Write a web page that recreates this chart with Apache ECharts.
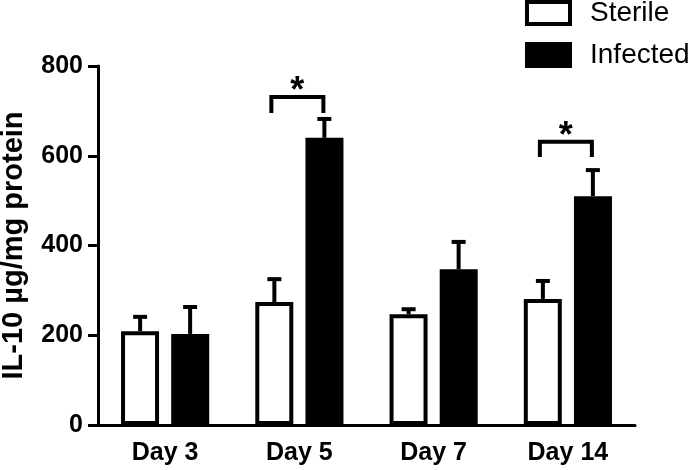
<!DOCTYPE html>
<html>
<head>
<meta charset="utf-8">
<script src="https://cdn.jsdelivr.net/npm/echarts@6/dist/echarts.min.js"></script>
<style>
html,body{margin:0;padding:0;background:#fff;}
#chart{width:693px;height:470px;}
</style>
</head>
<body>
<div id="chart"></div>
<script>
// ---- data ----
const categories = ['Day 3', 'Day 5', 'Day 7', 'Day 14'];
const sterile = [209, 274, 247, 281];
const infected = [203, 640, 347, 510];
const sterileErr = [32, 51, 11, 40];
const infectedErr = [60, 42, 61, 58];
const sigCategories = [1, 3];
const sigTop = [731, 631];
const sigLeg = [695, 597];
const yTicks = [0, 200, 400, 600, 800];

// ---- styles ----
const FONT = '"Liberation Sans", Arial, Helvetica, sans-serif';
const BAR_W = 38;
const HALF_STEP = 25; // half of center-to-center distance of paired bars

const chart = echarts.init(document.getElementById('chart'), null, {renderer: 'canvas'});

function errRender(offset) {
  return function (params, api) {
    const c = api.value(0), v = api.value(1), e = api.value(2);
    const base = api.coord([c, v]);
    const top = api.coord([c, v + e]);
    const x = base[0] + offset;
    const st = {stroke: '#000', lineWidth: 4};
    return {
      type: 'group',
      children: [
        {type: 'line', shape: {x1: x, y1: base[1], x2: x, y2: top[1]}, style: st},
        {type: 'line', shape: {x1: x - 7, y1: top[1], x2: x + 7, y2: top[1]}, style: st}
      ]
    };
  };
}

function sigRender(params, api) {
  const c = api.value(0), t = api.value(1), l = api.value(2);
  const p = api.coord([c, t]);
  const ly = api.coord([c, l])[1];
  const cx = p[0], ty = p[1];
  return {
    type: 'group',
    children: [
      {type: 'polyline', shape: {points: [[cx - 28, ly], [cx - 28, ty], [cx + 24, ty], [cx + 24, ly]]},
       style: {stroke: '#000', lineWidth: 4, fill: null}},
      {type: 'text', style: {text: '*', x: cx - 2, y: ty - 5, align: 'center', verticalAlign: 'middle',
        font: 'bold 36px ' + FONT, fill: '#000'}}
    ]
  };
}

const option = {
  animation: false,
  backgroundColor: '#fff',
  grid: {left: 98, right: 58, top: 66, bottom: 45, containLabel: false, outerBoundsMode: 'none'},
  legend: {
    data: [
      {name: 'Sterile', itemStyle: {color: '#fff', borderColor: '#000', borderWidth: 4}},
      {name: 'Infected', itemStyle: {color: '#000', borderColor: '#000', borderWidth: 4}}
    ],
    orient: 'vertical',
    left: 525,
    top: -1,
    padding: 0,
    icon: 'rect',
    itemWidth: 43,
    itemHeight: 22,
    itemGap: 14,
    textStyle: {fontFamily: FONT, fontSize: 28, color: '#000', padding: [0, 0, 0, 15]}
  },
  xAxis: {
    type: 'category',
    data: categories,
    axisLine: {lineStyle: {color: '#000', width: 3}},
    axisTick: {alignWithLabel: true, length: 8, lineStyle: {color: '#000', width: 3}},
    axisLabel: {fontFamily: FONT, fontWeight: 'bold', fontSize: 25, color: '#000', margin: 16}
  },
  yAxis: {
    type: 'value',
    min: yTicks[0],
    max: yTicks[yTicks.length - 1],
    interval: yTicks[1] - yTicks[0],
    name: 'IL-10 µg/mg protein',
    nameLocation: 'middle',
    nameGap: 70,
    nameTextStyle: {fontFamily: FONT, fontWeight: 'bold', fontSize: 29, color: '#000'},
    splitLine: {show: false},
    axisLine: {show: true, lineStyle: {color: '#000', width: 3}},
    axisTick: {show: true, length: 10, lineStyle: {color: '#000', width: 3}},
    axisLabel: {fontFamily: FONT, fontWeight: 'bold', fontSize: 25, color: '#000', margin: 15}
  },
  series: [
    {
      name: 'Sterile', type: 'bar', data: sterile, barWidth: BAR_W, barGap: '32%',
      itemStyle: {color: '#fff', borderColor: '#000', borderWidth: 4}
    },
    {
      name: 'Infected', type: 'bar', data: infected, barWidth: BAR_W, barGap: '32%',
      itemStyle: {color: '#000', borderColor: '#000', borderWidth: 4}
    },
    {
      type: 'custom', name: 'errS', z: 5,
      data: sterile.map((v, i) => [i, v, sterileErr[i]]),
      encode: {x: 0, y: 1},
      renderItem: errRender(-HALF_STEP)
    },
    {
      type: 'custom', name: 'errI', z: 5,
      data: infected.map((v, i) => [i, v, infectedErr[i]]),
      encode: {x: 0, y: 1},
      renderItem: errRender(HALF_STEP)
    },
    {
      type: 'custom', name: 'sig', z: 5,
      data: sigCategories.map((c, i) => [c, sigTop[i], sigLeg[i]]),
      encode: {x: 0, y: 1},
      renderItem: sigRender
    }
  ]
};
chart.setOption(option);
</script>
</body>
</html>
